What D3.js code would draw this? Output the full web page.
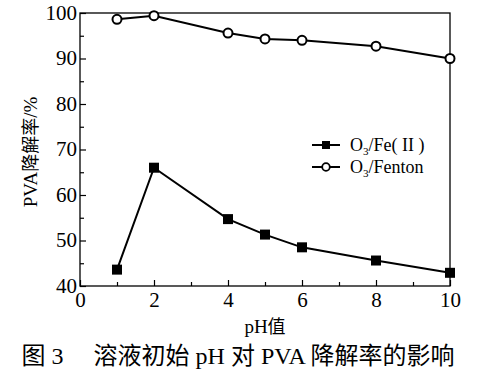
<!DOCTYPE html>
<html>
<head>
<meta charset="utf-8">
<script src="https://cdn.jsdelivr.net/npm/d3@7"></script>
<style>
body{margin:0;background:#fff;}
svg text{font-family:"Liberation Serif","DejaVu Serif",serif !important;fill:#000;}
svg tspan.cjk{font-family:"Noto Sans CJK SC",sans-serif !important;}
</style>
</head>
<body>
<div id="grafico"></div>
<script>
const WIDTH = 485;
const HEIGHT = 372;

// pH values and degradation rates (%)
const phValues = [1, 2, 4, 5, 6, 8, 10];
const fe2Rates = [43.6, 66.0, 54.7, 51.3, 48.5, 45.6, 42.9];
const fentonRates = [98.6, 99.4, 95.6, 94.3, 94.0, 92.7, 90.0];
const xTicks = [0, 2, 4, 6, 8, 10];
const yTicks = [40, 50, 60, 70, 80, 90, 100];

let svg = d3.select("#grafico")
    .append("svg")
    .attr("width",WIDTH)
    .attr("height",HEIGHT);

let x = d3.scaleLinear().domain([0,10]).range([80,450]);
let y = d3.scaleLinear().domain([40,100]).range([286,13]);

// frame
svg.append("rect")
    .attr("x",x(0)).attr("y",y(100))
    .attr("width",x(10)-x(0)).attr("height",y(40)-y(100))
    .style("fill","none").style("stroke","#000").style("stroke-width",1.3);

// x axis with inward ticks
let xAxis = svg.append("g")
    .attr("transform","translate(0,"+y(40)+")")
    .call(d3.axisBottom(x).tickValues(d3.range(0,11,1)).tickSize(-6).tickPadding(4)
        .tickFormat(d => xTicks.includes(d) ? d : ""));
xAxis.attr("font-family",null).attr("font-size",null);
xAxis.selectAll(".tick line").attr("y2",d => xTicks.includes(d) ? -6 : -4);
xAxis.select(".domain").remove();
xAxis.selectAll("text")
    .style("font-family","'Liberation Serif',serif")
    .style("font-size","21px").attr("dy","0.8em");

let yAxis = svg.append("g")
    .attr("transform","translate("+x(0)+",0)")
    .call(d3.axisLeft(y).tickValues(d3.range(40,101,5)).tickSize(-6).tickPadding(3)
        .tickFormat(d => yTicks.includes(d) ? d : ""));
yAxis.attr("font-family",null).attr("font-size",null);
yAxis.selectAll(".tick line").attr("x2",d => yTicks.includes(d) ? 6 : 4);
yAxis.select(".domain").remove();
yAxis.selectAll("text")
    .style("font-family","'Liberation Serif',serif")
    .style("font-size","21px").attr("dy","0.3em");

svg.selectAll(".tick line").style("stroke","#000").style("stroke-width",1.2);

// axis titles
svg.append("text")
    .attr("x",265).attr("y",333)
    .attr("text-anchor","middle")
    .style("font-size","19px")
    .html('pH<tspan class="cjk" style="font-size:18px">值</tspan>');

svg.append("text")
    .attr("transform","translate(37,152) rotate(-90)")
    .attr("text-anchor","middle")
    .style("font-size","19px")
    .html('PVA<tspan class="cjk" style="font-size:18px">降解率</tspan>/%');

let line = d3.line()
    .x((d,i) => x(phValues[i]))
    .y(d => y(d));

svg.append("path")
    .datum(fe2Rates)
    .attr("d",line)
    .style("fill","none").style("stroke","#000").style("stroke-width",2);

svg.append("path")
    .datum(fentonRates)
    .attr("d",line)
    .style("fill","none").style("stroke","#000").style("stroke-width",2);

svg.selectAll(".sq")
    .data(fe2Rates)
    .enter()
    .append("rect")
    .attr("x",(d,i) => x(phValues[i])-5)
    .attr("y",d => y(d)-5)
    .attr("width",10).attr("height",10)
    .style("fill","#000");

svg.selectAll(".circ")
    .data(fentonRates)
    .enter()
    .append("circle")
    .attr("cx",(d,i) => x(phValues[i]))
    .attr("cy",d => y(d))
    .attr("r",4.5)
    .style("fill","#fff").style("stroke","#000").style("stroke-width",2);

// legend
let legend = svg.append("g");
legend.append("line").attr("x1",312).attr("x2",340).attr("y1",145).attr("y2",145)
    .style("stroke","#000").style("stroke-width",2);
legend.append("rect").attr("x",322).attr("y",141).attr("width",8).attr("height",8).style("fill","#000");
legend.append("line").attr("x1",312).attr("x2",340).attr("y1",167).attr("y2",167)
    .style("stroke","#000").style("stroke-width",2);
legend.append("circle").attr("cx",326).attr("cy",167).attr("r",3.8)
    .style("fill","#fff").style("stroke","#000").style("stroke-width",1.8);

legend.append("text").attr("x",350).attr("y",151).style("font-size","18px")
    .html('O<tspan dy="4" style="font-size:11px">3</tspan><tspan dy="-4">/Fe( II )</tspan>');
legend.append("text").attr("x",350).attr("y",173).style("font-size","18px")
    .html('O<tspan dy="4" style="font-size:11px">3</tspan><tspan dy="-4">/Fenton</tspan>');

// caption
svg.append("text")
    .attr("x",238).attr("y",364)
    .attr("text-anchor","middle")
    .style("font-size","24px")
    .html('<tspan class="cjk">图</tspan> 3　 <tspan class="cjk">溶液初始</tspan> pH <tspan class="cjk">对</tspan> PVA <tspan class="cjk">降解率的影响</tspan>');
</script>
</body>
</html>
